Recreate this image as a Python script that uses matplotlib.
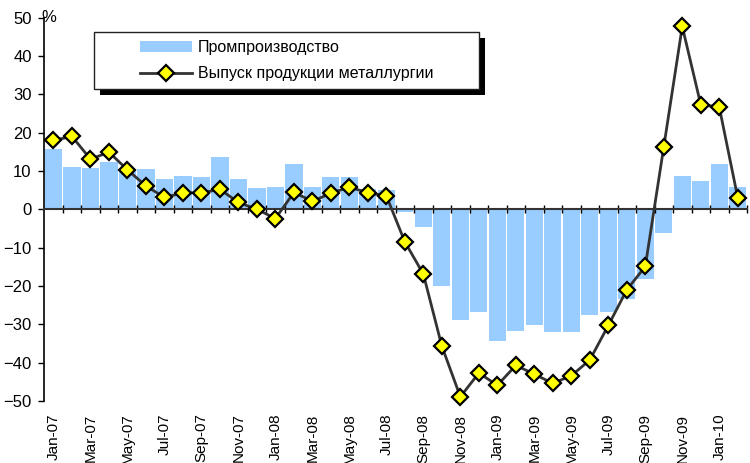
import matplotlib
matplotlib.use('Agg')
import matplotlib.pyplot as plt
from matplotlib.patches import Rectangle
from matplotlib.lines import Line2D
from matplotlib.patches import Patch

plt.rcParams['font.family'] = ['Liberation Sans', 'DejaVu Sans']

months = ['Jan-07', 'Feb-07', 'Mar-07', 'Apr-07', 'May-07', 'Jun-07', 'Jul-07', 'Aug-07',
          'Sep-07', 'Oct-07', 'Nov-07', 'Dec-07', 'Jan-08', 'Feb-08', 'Mar-08', 'Apr-08',
          'May-08', 'Jun-08', 'Jul-08', 'Aug-08', 'Sep-08', 'Oct-08', 'Nov-08', 'Dec-08',
          'Jan-09', 'Feb-09', 'Mar-09', 'Apr-09', 'May-09', 'Jun-09', 'Jul-09', 'Aug-09',
          'Sep-09', 'Oct-09', 'Nov-09', 'Dec-09', 'Jan-10', 'Feb-10']

# industrial production, % y/y
industry = [15.7, 11.1, 10.9, 12.4, 10.5, 10.5, 7.9, 8.8, 8.4, 13.7, 7.9, 5.6, 5.8,
            11.7, 5.8, 8.4, 8.4, 5.3, 5.0, -0.6, -4.5, -19.9, -28.8, -26.7, -34.3,
            -31.7, -30.3, -31.9, -31.9, -27.5, -26.7, -23.3, -18.3, -6.3, 8.8, 7.5,
            11.9, 5.7]

# metallurgy output, % y/y
metals = [18.0, 19.0, 13.1, 14.9, 10.3, 6.1, 3.1, 4.3, 4.3, 5.2, 1.8, 0.0, -2.4,
          4.4, 2.1, 4.2, 5.8, 4.3, 3.5, -8.5, -16.9, -35.7, -48.9, -42.7, -45.9,
          -40.7, -43.0, -45.4, -43.4, -39.3, -30.3, -21.0, -14.9, 16.3, 47.7, 27.3,
          26.7, 3.0]

label_bar = 'Промпроизводство'
label_line = 'Выпуск продукции металлургии'

x = list(range(len(months)))

fig = plt.figure(figsize=(7.5, 4.63), dpi=100)
ax = fig.add_axes([0.059, 0.1339, 0.937, 0.828])

ax.bar(x, industry, width=0.93, color='#99CCFF', zorder=1)
ax.plot(x, metals, color='#333333', lw=2, marker='D', markersize=8,
        markerfacecolor='#FFFF00', markeredgecolor='black', markeredgewidth=1.6,
        zorder=4, clip_on=False)

ax.set_xlim(-0.5, len(months) - 0.5)
ax.set_ylim(-50, 50)
ax.set_yticks(range(-50, 51, 10))
ax.tick_params(axis='y', labelsize=12, length=4, width=1, pad=5)

# x axis line through zero with ticks at month boundaries
ax.spines['bottom'].set_position(('data', 0))
ax.spines['bottom'].set_color('#333333')
ax.spines['bottom'].set_linewidth(1.5)
ax.spines['left'].set_linewidth(1.2)
ax.spines['top'].set_visible(False)
ax.spines['right'].set_visible(False)
ax.set_xticks([i + 0.5 for i in x])
ax.tick_params(axis='x', direction='inout', length=6, width=1, labelbottom=False)

# month labels at the bottom
sec = ax.secondary_xaxis('bottom')
sec.set_xticks(x[::2], months[::2], rotation=90, fontsize=11)
sec.tick_params(length=0, pad=9)
sec.spines['bottom'].set_visible(False)

ax.annotate('%', xy=(0, 1), xycoords='axes fraction', xytext=(3, 0),
            textcoords='offset points', ha='center', va='center', fontsize=12)

# legend frame with hard shadow
fx0, fy0, fw, fh = 94 / 750, 1 - 89 / 463, 385 / 750, 57 / 463
fig.patches.append(Rectangle((fx0 + 6 / 750, fy0 - 6 / 463), fw, fh, transform=fig.transFigure,
                             facecolor='black', edgecolor='none', zorder=5))
fig.patches.append(Rectangle((fx0, fy0), fw, fh, transform=fig.transFigure,
                             facecolor='white', edgecolor='#222222', lw=1, zorder=6))

handles = [Patch(facecolor='#99CCFF', edgecolor='none'),
           Line2D([0], [0], color='#333333', lw=2, marker='D', markersize=8,
                  markerfacecolor='#FFFF00', markeredgecolor='black', markeredgewidth=1.6)]
leg = fig.legend(handles, [label_bar, label_line], loc='center',
                 bbox_to_anchor=(fx0 + fw / 2, fy0 + fh / 2), frameon=False,
                 fontsize=11.5, handlelength=3.3, handletextpad=0.35, labelspacing=0.7)
leg.set_zorder(7)

fig.savefig('out.png', dpi=100)
